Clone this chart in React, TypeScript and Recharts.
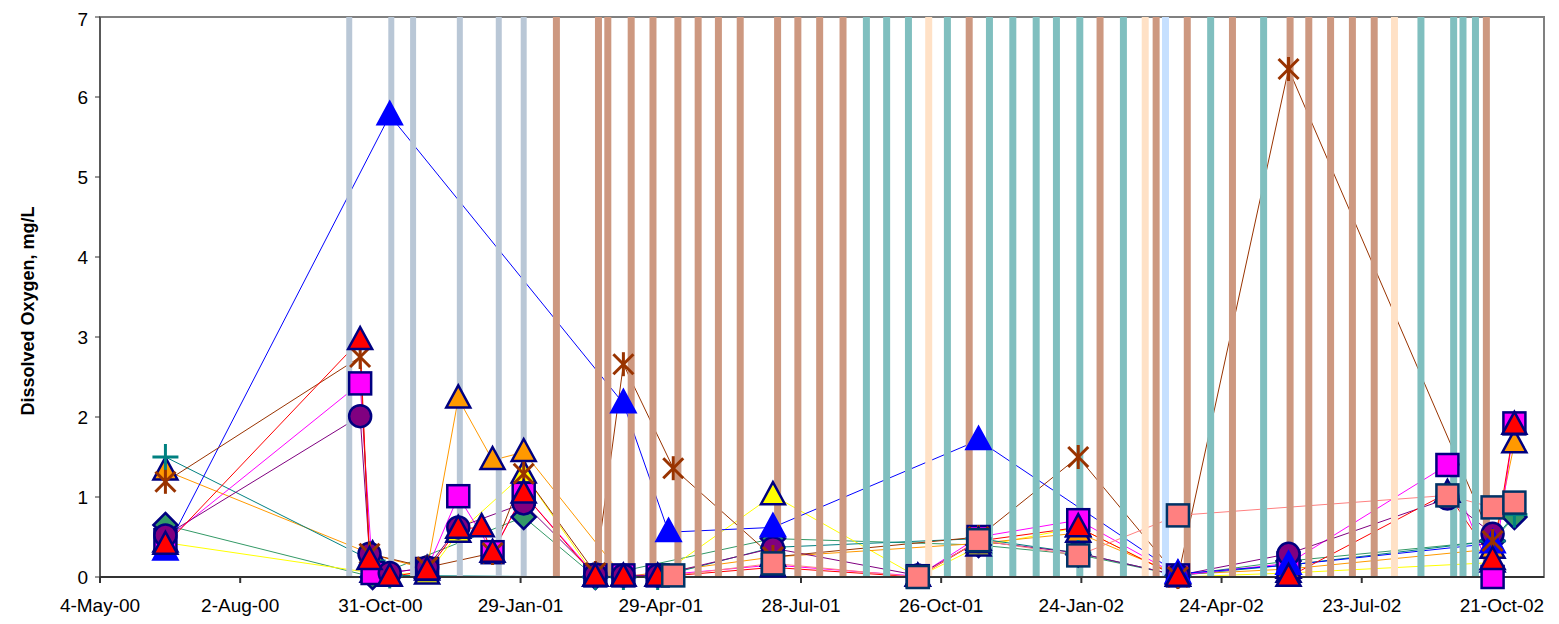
import React from "react";
import {
  ComposedChart,
  Line,
  XAxis,
  YAxis,
  ReferenceLine,
  ReferenceArea,
} from "recharts";

// x values are days since 4-May-00
const tickDays = [0, 90, 180, 270, 360, 450, 540, 630, 720, 810, 900];
const tickLabels = [
  "4-May-00", "2-Aug-00", "31-Oct-00", "29-Jan-01", "29-Apr-01", "28-Jul-01",
  "26-Oct-01", "24-Jan-02", "24-Apr-02", "23-Jul-02", "21-Oct-02",
];

// vertical event bands
const grayBars = [160, 187, 201, 231, 256, 272];
const brownBars = [293, 320, 326, 341, 355, 371, 384, 397, 411, 435, 448, 462, 477, 558, 642, 678, 698, 727, 764, 776, 790, 804, 818, 890];
const tealBars = [492, 505, 519, 544, 571, 586, 601, 614, 629, 657, 713, 747, 848, 869, 875, 883];
const peachBars = [532, 671, 831];
const paleBlueBars = [684];

const green = [
  { d: 42, v: 0.65 }, { d: 175, v: 0 }, { d: 272, v: 0.75 }, { d: 318, v: 0 },
  { d: 432, v: 0.48 }, { d: 564, v: 0.4 }, { d: 628, v: 0.28 }, { d: 692, v: 0.02 },
  { d: 763, v: 0.2 }, { d: 894, v: 0.45 }, { d: 908, v: 0.75 },
];
const yellow = [
  { d: 42, v: 0.43 }, { d: 175, v: 0.05 }, { d: 210, v: 0.03 }, { d: 230, v: 0.55 },
  { d: 272, v: 1.29 }, { d: 318, v: 0 }, { d: 358, v: 0 }, { d: 432, v: 1.02 },
  { d: 525, v: 0 }, { d: 564, v: 0.38 }, { d: 628, v: 0.62 }, { d: 692, v: 0 },
  { d: 763, v: 0.05 }, { d: 894, v: 0.18 },
];
const orange = [
  { d: 42, v: 1.33 }, { d: 175, v: 0.28 }, { d: 210, v: 0.1 }, { d: 230, v: 2.23 },
  { d: 252, v: 1.46 }, { d: 272, v: 1.56 }, { d: 336, v: 0 }, { d: 432, v: 0.25 },
  { d: 564, v: 0.42 }, { d: 628, v: 0.55 }, { d: 692, v: 0.03 }, { d: 763, v: 0.1 },
  { d: 894, v: 0.35 }, { d: 908, v: 1.67 },
];
const teal = [
  { d: 42, v: 1.5 }, { d: 175, v: 0.2 }, { d: 186, v: 0.02 }, { d: 318, v: 0 },
  { d: 336, v: 0 }, { d: 358, v: 0 }, { d: 432, v: 0.37 }, { d: 564, v: 0.48 },
  { d: 628, v: 0.3 }, { d: 692, v: 0.02 }, { d: 763, v: 0.15 }, { d: 894, v: 0.45 },
  { d: 908, v: 0.78 },
];
const magenta = [
  { d: 42, v: 0.46 }, { d: 167, v: 2.42 }, { d: 175, v: 0.05 }, { d: 210, v: 0.1 },
  { d: 230, v: 1.01 }, { d: 252, v: 0.31 }, { d: 272, v: 1.04 }, { d: 318, v: 0.02 },
  { d: 336, v: 0.02 }, { d: 358, v: 0.02 }, { d: 432, v: 0.15 }, { d: 525, v: 0.01 },
  { d: 564, v: 0.5 }, { d: 628, v: 0.71 }, { d: 692, v: 0.02 }, { d: 763, v: 0.17 },
  { d: 865, v: 1.4 }, { d: 894, v: 0 }, { d: 908, v: 1.92 },
];
const purple = [
  { d: 42, v: 0.52 }, { d: 167, v: 2.01 }, { d: 173, v: 0.29 }, { d: 186, v: 0.05 },
  { d: 210, v: 0.12 }, { d: 230, v: 0.62 }, { d: 272, v: 0.92 }, { d: 318, v: 0.03 },
  { d: 336, v: 0.02 }, { d: 358, v: 0.02 }, { d: 432, v: 0.36 }, { d: 525, v: 0.02 },
  { d: 564, v: 0.45 }, { d: 628, v: 0.3 }, { d: 692, v: 0.02 }, { d: 763, v: 0.29 },
  { d: 865, v: 0.98 }, { d: 894, v: 0.54 },
];
const blue = [
  { d: 42, v: 0.33 }, { d: 186, v: 5.77 }, { d: 336, v: 2.17 }, { d: 365, v: 0.56 },
  { d: 432, v: 0.62 }, { d: 564, v: 1.71 }, { d: 692, v: 0.04 }, { d: 763, v: 0.15 },
  { d: 894, v: 0.42 },
];
const brown = [
  { d: 42, v: 1.19 }, { d: 167, v: 2.75 }, { d: 173, v: 0.29 }, { d: 210, v: 0.12 },
  { d: 252, v: 0.3 }, { d: 272, v: 1.29 }, { d: 318, v: 0.05 }, { d: 336, v: 2.66 },
  { d: 368, v: 1.36 }, { d: 432, v: 0.25 }, { d: 564, v: 0.5 }, { d: 628, v: 1.5 },
  { d: 692, v: 0 }, { d: 763, v: 6.35 }, { d: 894, v: 0.45 },
];
const red = [
  { d: 42, v: 0.4 }, { d: 167, v: 2.96 }, { d: 173, v: 0.21 }, { d: 186, v: 0 },
  { d: 210, v: 0.08 }, { d: 230, v: 0.6 }, { d: 245, v: 0.62 }, { d: 252, v: 0.3 },
  { d: 272, v: 1.04 }, { d: 318, v: 0 }, { d: 336, v: 0 }, { d: 358, v: 0 },
  { d: 432, v: 0.12 }, { d: 525, v: 0 }, { d: 564, v: 0.45 }, { d: 628, v: 0.62 },
  { d: 692, v: 0 }, { d: 763, v: 0 }, { d: 865, v: 1.05 }, { d: 894, v: 0.21 },
  { d: 908, v: 1.9 },
];
const salmon = [
  { d: 368, v: 0.02 }, { d: 432, v: 0.17 }, { d: 525, v: 0 }, { d: 564, v: 0.46 },
  { d: 628, v: 0.27 }, { d: 692, v: 0.77 }, { d: 865, v: 1.02 }, { d: 894, v: 0.87 },
  { d: 908, v: 0.93 },
];

const NAVY = "#000080";

const triangle = (fill: string, stroke: string) => (p: any) => {
  const { cx, cy, index } = p;
  if (cx == null || cy == null) return <g key={index} />;
  const w = 24;
  const h = 22;
  const pts = `${cx},${cy - h * 0.6} ${cx - w / 2},${cy + h * 0.4} ${cx + w / 2},${cy + h * 0.4}`;
  return <polygon key={index} points={pts} fill={fill} stroke={stroke} strokeWidth={2.5} />;
};

const square = (fill: string, stroke: string) => (p: any) => {
  const { cx, cy, index } = p;
  if (cx == null || cy == null) return <g key={index} />;
  return <rect key={index} x={cx - 11} y={cy - 11} width={22} height={22} fill={fill} stroke={stroke} strokeWidth={2.5} />;
};

const circle = (fill: string, stroke: string) => (p: any) => {
  const { cx, cy, index } = p;
  if (cx == null || cy == null) return <g key={index} />;
  return <circle key={index} cx={cx} cy={cy} r={11} fill={fill} stroke={stroke} strokeWidth={2.5} />;
};

const diamond = (fill: string, stroke: string) => (p: any) => {
  const { cx, cy, index } = p;
  if (cx == null || cy == null) return <g key={index} />;
  const pts = `${cx},${cy - 12} ${cx + 12},${cy} ${cx},${cy + 12} ${cx - 12},${cy}`;
  return <polygon key={index} points={pts} fill={fill} stroke={stroke} strokeWidth={2.5} />;
};

const star = (color: string) => (p: any) => {
  const { cx, cy, index } = p;
  if (cx == null || cy == null) return <g key={index} />;
  return (
    <g key={index} stroke={color} strokeWidth={3}>
      <line x1={cx - 10} y1={cy - 10} x2={cx + 10} y2={cy + 10} />
      <line x1={cx - 10} y1={cy + 10} x2={cx + 10} y2={cy - 10} />
      <line x1={cx} y1={cy - 12} x2={cx} y2={cy + 12} />
    </g>
  );
};

const plus = (color: string) => (p: any) => {
  const { cx, cy, index } = p;
  if (cx == null || cy == null) return <g key={index} />;
  return (
    <g key={index} stroke={color} strokeWidth={3}>
      <line x1={cx - 13} y1={cy} x2={cx + 13} y2={cy} />
      <line x1={cx} y1={cy - 13} x2={cx} y2={cy + 13} />
    </g>
  );
};

const series = [
  { key: "green", data: green, color: "#339966", dot: diamond("#339966", NAVY) },
  { key: "yellow", data: yellow, color: "#FFFF00", dot: triangle("#FFFF00", NAVY) },
  { key: "orange", data: orange, color: "#FF9900", dot: triangle("#FF9900", NAVY) },
  { key: "teal", data: teal, color: "#008080", dot: plus("#008080") },
  { key: "magenta", data: magenta, color: "#FF00FF", dot: square("#FF00FF", NAVY) },
  { key: "purple", data: purple, color: "#800080", dot: circle("#800080", NAVY) },
  { key: "blue", data: blue, color: "#0000FF", dot: triangle("#0000FF", "#0000FF") },
  { key: "brown", data: brown, color: "#993300", dot: star("#993300") },
  { key: "red", data: red, color: "#FF0000", dot: triangle("#FF0000", NAVY) },
  { key: "salmon", data: salmon, color: "#FF8080", dot: square("#FF8080", "#003366") },
];

const bands = [
  { days: grayBars, color: "#B9C7D6", w: 6 },
  { days: brownBars, color: "#CD9880", w: 7 },
  { days: tealBars, color: "#80BFBF", w: 7 },
  { days: peachBars, color: "#FFE1C6", w: 7 },
  { days: paleBlueBars, color: "#C6E0FF", w: 7 },
];

const font = "'Liberation Sans', Arial, sans-serif";

const YTitle = (props: any) => {
  const { viewBox } = props;
  const x = viewBox.x - 6;
  const y = viewBox.y + viewBox.height / 2 + 14;
  return (
    <text
      x={x}
      y={y}
      transform={`rotate(-90, ${x}, ${y})`}
      textAnchor="middle"
      fontFamily={font}
      fontWeight="bold"
      fontSize={18}
      fill="#000"
    >
      Dissolved Oxygen, mg/L
    </text>
  );
};

export default function App() {
  return (
    <div style={{ width: 1545, height: 608 }}>
      <ComposedChart width={1545} height={608} margin={{ top: 9, right: 9, bottom: 9, left: 32 }}>
        <XAxis
          type="number"
          dataKey="d"
          domain={[0, 927]}
          ticks={tickDays}
          tickFormatter={(v: number) => tickLabels[tickDays.indexOf(v)] ?? ""}
          height={30}
          tickSize={6}
          tickMargin={16}
          stroke="#333"
          strokeWidth={2}
          tick={{ fontSize: 19, fill: "#000", fontFamily: font }}
          interval={0}
          allowDataOverflow
        />
        <YAxis
          type="number"
          domain={[0, 7]}
          ticks={[0, 1, 2, 3, 4, 5, 6, 7]}
          width={60}
          tickSize={5}
          tickMargin={7}
          stroke="#333"
          tick={{ fontSize: 19, fill: "#000", fontFamily: font }}
          label={<YTitle />}
        />
        <ReferenceArea x1={0} x2={927} y1={0} y2={7} fill="none" stroke="#808080" strokeWidth={2} />
        {series.map((s) => (
          <Line
            key={s.key}
            data={s.data}
            dataKey="v"
            stroke={s.color}
            strokeWidth={1}
            dot={s.dot}
            activeDot={false}
            isAnimationActive={false}
          />
        ))}
        {bands.flatMap((b) =>
          b.days.map((d, i) => (
            <ReferenceLine key={`${b.color}-${i}`} x={d} stroke={b.color} strokeWidth={b.w} />
          ))
        )}
      </ComposedChart>
    </div>
  );
}
